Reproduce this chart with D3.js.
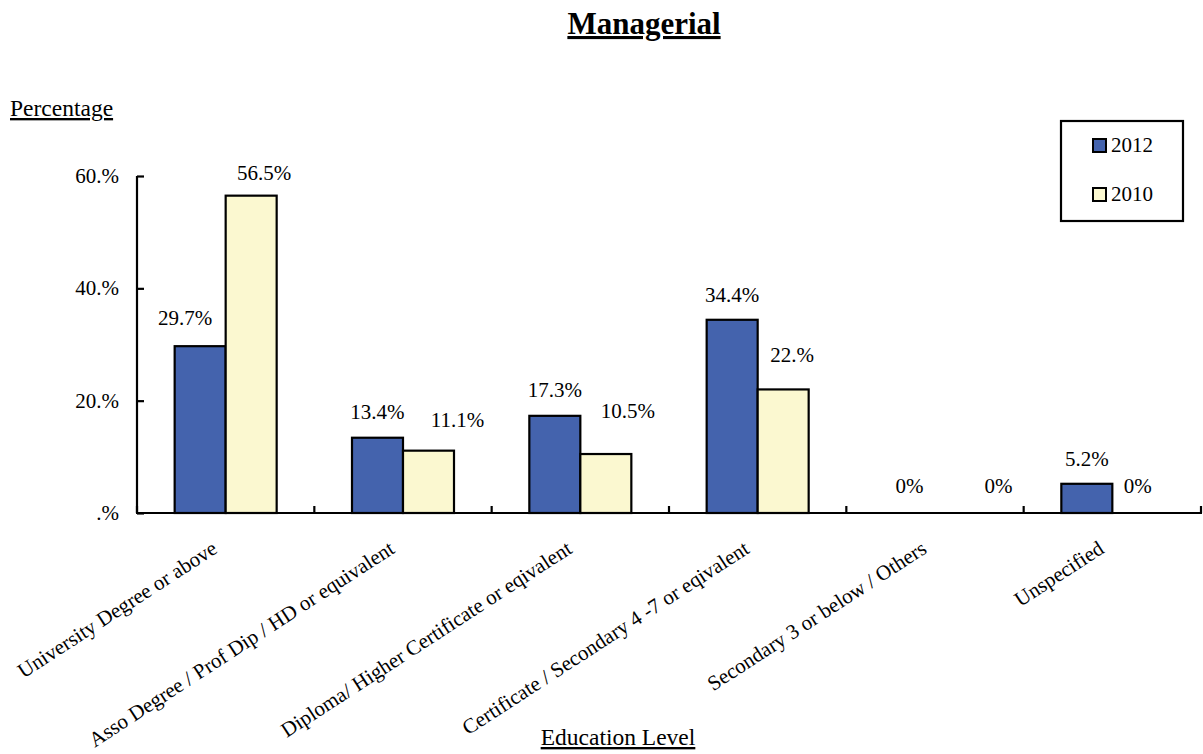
<!DOCTYPE html>
<html>
<head>
<meta charset="utf-8">
<script src="https://cdn.jsdelivr.net/npm/d3@7"></script>
<style>
  html, body { margin: 0; padding: 0; background: #fff; }
  svg { display: block; font-family: "Liberation Serif", "Times New Roman", serif; }
</style>
</head>
<body>
<svg id="chart" width="1203" height="754"></svg>
<script>
// Education level of managerial staff, 2012 vs 2010 (percent)
const categories = [
  "University Degree or above",
  "Asso Degree / Prof Dip / HD or equivalent",
  "Diploma/ Higher Certificate or eqivalent",
  "Certificate / Secondary 4 -7 or eqivalent",
  "Secondary 3 or below / Others",
  "Unspecified"
];
const seriesNames = ["2012", "2010"];
const values2012 = [29.7, 13.4, 17.3, 34.4, 0, 5.2];
const values2010 = [56.5, 11.1, 10.5, 22.0, 0, 0];
const yTicks = [0, 20, 40, 60];

// hand-placed data-label offsets [dx, dy] in px
const labelNudge2012 = [[-15, -2], [0, 0], [0, 0], [0, 1], [0, -1], [0, 1]];
const labelNudge2010 = [[13, 3], [29, -5], [22, -17], [9, -8], [38, -1], [0, -1]];

const colors = { "2012": "#4463ad", "2010": "#fbf8d0" };

const svg = d3.select("#chart");
const plot = { left: 137, right: 1201, top: 176, bottom: 513 };

const x0 = d3.scaleBand().domain(categories).range([plot.left, plot.right]).padding(0);
const bw = x0.bandwidth();
const x1 = d3.scaleBand().domain(seriesNames).range([bw * 0.2124, bw * 0.7876]).padding(0);
const y = d3.scaleLinear().domain([0, 60]).range([plot.bottom, plot.top]);

// percentage format: "22.%" for whole numbers, "0%" for zero, one decimal otherwise
const fmtLabel = v => v === 0 ? "0%" : (Number.isInteger(v) ? v + ".%" : v.toFixed(1) + "%");
const fmtTick = v => (v === 0 ? "" : v) + ".%";

const rows = categories.map((c, i) => ({
  cat: c,
  vals: [
    { s: "2012", v: values2012[i], nudge: labelNudge2012[i] },
    { s: "2010", v: values2010[i], nudge: labelNudge2010[i] }
  ]
}));

// bars
const groups = svg.append("g").selectAll("g")
  .data(rows).join("g")
  .attr("transform", d => `translate(${x0(d.cat)},0)`);

groups.selectAll("rect")
  .data(d => d.vals).join("rect")
  .attr("x", d => x1(d.s))
  .attr("width", x1.bandwidth())
  .attr("y", d => y(d.v))
  .attr("height", d => y(0) - y(d.v))
  .attr("fill", d => colors[d.s])
  .attr("stroke", "#000")
  .attr("stroke-width", 2.2);

// data labels
groups.selectAll("text")
  .data(d => d.vals).join("text")
  .attr("x", d => x1(d.s) + x1.bandwidth() / 2 + d.nudge[0])
  .attr("y", d => y(d.v) - 19 + d.nudge[1])
  .attr("text-anchor", "middle")
  .attr("font-size", 21)
  .attr("fill", "#000")
  .text(d => fmtLabel(d.v));

// y axis
const yAxis = svg.append("g")
  .attr("transform", `translate(${plot.left},0)`)
  .call(d3.axisRight(y).tickValues(yTicks).tickSize(7).tickFormat(""));
yAxis.select(".domain").attr("d", `M0,${plot.top}V${plot.bottom}`).attr("stroke-width", 2.2);
yAxis.selectAll(".tick line").attr("stroke-width", 2.2);

svg.append("g").selectAll("text")
  .data(yTicks).join("text")
  .attr("x", 119)
  .attr("y", d => y(d) + 7)
  .attr("text-anchor", "end")
  .attr("font-size", 21)
  .text(fmtTick);

// x axis: line plus boundary ticks pointing up
const boundaries = categories.map(c => x0(c) + bw).concat([plot.left]);
const xAxis = svg.append("g");
xAxis.append("line")
  .attr("x1", plot.left - 1).attr("x2", plot.right + 1)
  .attr("y1", y(0)).attr("y2", y(0))
  .attr("stroke", "#000").attr("stroke-width", 2.2);
xAxis.selectAll("line.tk")
  .data(boundaries).join("line")
  .attr("class", "tk")
  .attr("x1", d => d).attr("x2", d => d)
  .attr("y1", y(0)).attr("y2", y(0) - 7)
  .attr("stroke", "#000").attr("stroke-width", 2.2);

// rotated category labels
xAxis.selectAll("text")
  .data(categories).join("text")
  .attr("text-anchor", "end")
  .attr("font-size", 21)
  .attr("transform", c => `translate(${x0(c) + bw / 2 - 7},${y(0) + 39}) rotate(-33)`)
  .text(c => c);

// titles
svg.append("text")
  .attr("x", 644).attr("y", 34)
  .attr("text-anchor", "middle")
  .attr("font-size", 31).attr("font-weight", "bold")
  .attr("text-decoration", "underline")
  .text("Managerial");

svg.append("text")
  .attr("x", 10).attr("y", 116)
  .attr("font-size", 23.5)
  .attr("text-decoration", "underline")
  .text("Percentage");

svg.append("text")
  .attr("x", 618).attr("y", 745)
  .attr("text-anchor", "middle")
  .attr("font-size", 23.5)
  .attr("text-decoration", "underline")
  .text("Education Level");

// legend
const legend = svg.append("g").attr("transform", "translate(1061,121)");
legend.append("rect")
  .attr("width", 122).attr("height", 100)
  .attr("fill", "#fff").attr("stroke", "#000").attr("stroke-width", 2.2);
const li = legend.selectAll("g.item")
  .data(seriesNames).join("g")
  .attr("class", "item")
  .attr("transform", (d, i) => `translate(32,${18 + i * 49})`);
li.append("rect")
  .attr("width", 13).attr("height", 13)
  .attr("fill", d => colors[d])
  .attr("stroke", "#000").attr("stroke-width", 2);
li.append("text")
  .attr("x", 18).attr("y", 13)
  .attr("font-size", 21)
  .text(d => d);
</script>
</body>
</html>
